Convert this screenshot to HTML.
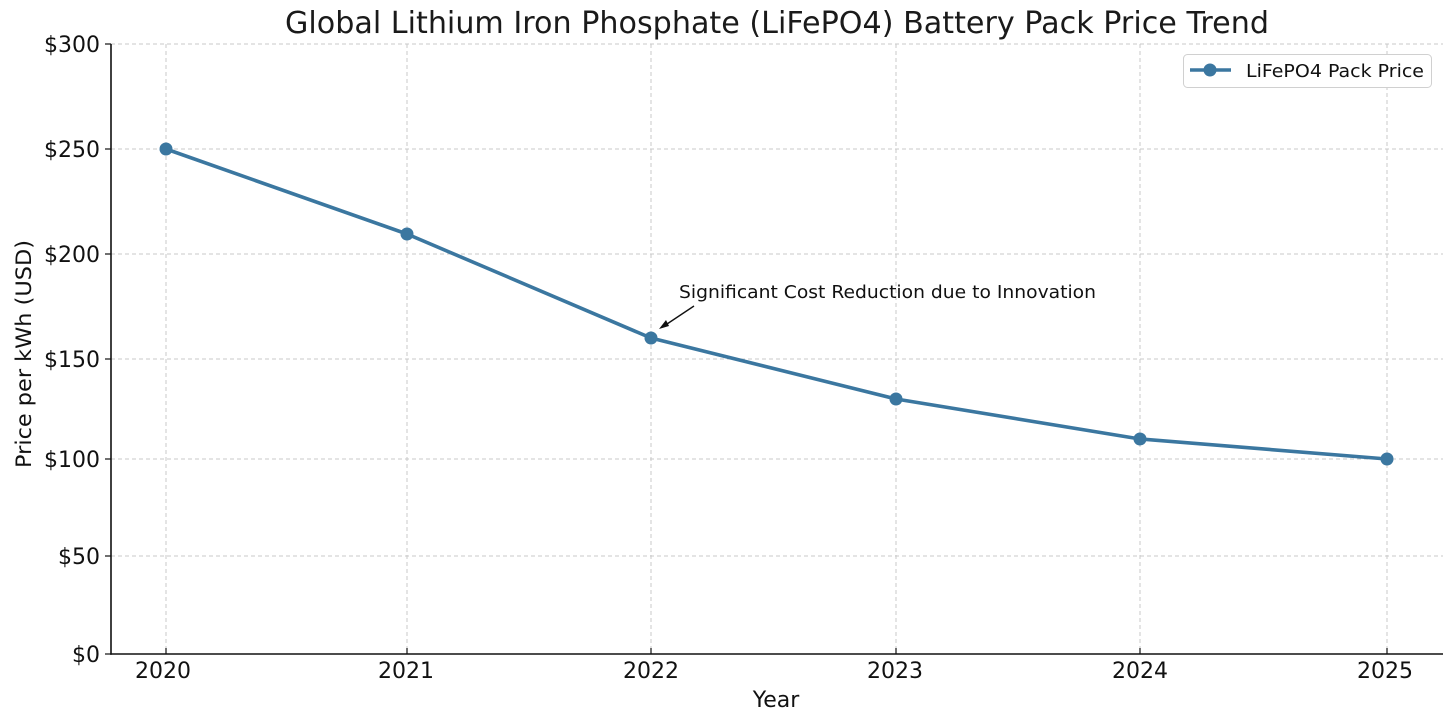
<!DOCTYPE html>
<html><head><meta charset="utf-8"><style>
html,body{margin:0;padding:0;background:#fff;}
svg{display:block;font-family:"DejaVu Sans","Liberation Sans",sans-serif;}
</style></head><body>
<svg width="1456" height="720" viewBox="0 0 1456 720" xmlns="http://www.w3.org/2000/svg">
<rect width="1456" height="720" fill="#fff"/>
<!-- grid -->
<g stroke="#c8c8c8" stroke-width="1" stroke-dasharray="4,3" fill="none">
<line x1="111" y1="44" x2="1443" y2="44"/>
<line x1="111" y1="149" x2="1443" y2="149"/>
<line x1="111" y1="254" x2="1443" y2="254"/>
<line x1="111" y1="359" x2="1443" y2="359"/>
<line x1="111" y1="459" x2="1443" y2="459"/>
<line x1="111" y1="556" x2="1443" y2="556"/>
<line x1="166" y1="44" x2="166" y2="654"/>
<line x1="407" y1="44" x2="407" y2="654"/>
<line x1="651" y1="44" x2="651" y2="654"/>
<line x1="896" y1="44" x2="896" y2="654"/>
<line x1="1140" y1="44" x2="1140" y2="654"/>
<line x1="1387" y1="44" x2="1387" y2="654"/>
</g>
<!-- spines -->
<g stroke="#111" stroke-width="1.6" fill="none">
<line x1="111" y1="44" x2="111" y2="654.8"/>
<line x1="110.2" y1="654" x2="1443" y2="654"/>
</g>
<!-- ticks -->
<g stroke="#111" stroke-width="1.2">
<line x1="105" y1="44" x2="111" y2="44"/>
<line x1="105" y1="149" x2="111" y2="149"/>
<line x1="105" y1="254" x2="111" y2="254"/>
<line x1="105" y1="359" x2="111" y2="359"/>
<line x1="105" y1="459" x2="111" y2="459"/>
<line x1="105" y1="556" x2="111" y2="556"/>
<line x1="105" y1="654" x2="111" y2="654"/>
<line x1="166" y1="648" x2="166" y2="654"/>
<line x1="407" y1="648" x2="407" y2="654"/>
<line x1="651" y1="648" x2="651" y2="654"/>
<line x1="896" y1="648" x2="896" y2="654"/>
<line x1="1140" y1="648" x2="1140" y2="654"/>
<line x1="1387" y1="648" x2="1387" y2="654"/>
</g>
<!-- y tick labels -->
<g font-size="22" fill="#111" text-anchor="end">
<text x="100" y="52">$300</text>
<text x="100" y="157">$250</text>
<text x="100" y="262">$200</text>
<text x="100" y="367">$150</text>
<text x="100" y="467">$100</text>
<text x="100" y="564">$50</text>
<text x="100" y="662">$0</text>
</g>
<!-- x tick labels -->
<g font-size="22" fill="#111" text-anchor="middle">
<text x="163" y="678">2020</text>
<text x="406" y="678">2021</text>
<text x="651" y="678">2022</text>
<text x="895" y="678">2023</text>
<text x="1140" y="678">2024</text>
<text x="1385" y="678">2025</text>
</g>
<!-- axis labels -->
<text x="776" y="707" font-size="22" fill="#111" text-anchor="middle">Year</text>
<text transform="translate(31,354) rotate(-90)" font-size="21" fill="#111" text-anchor="middle" textLength="228" lengthAdjust="spacingAndGlyphs">Price per kWh (USD)</text>
<!-- title -->
<text x="777" y="33" font-size="30" fill="#1a1a1a" text-anchor="middle" textLength="984" lengthAdjust="spacingAndGlyphs">Global Lithium Iron Phosphate (LiFePO4) Battery Pack Price Trend</text>
<!-- series -->
<polyline points="166,149 407,234 651,338 896,399 1140,439 1387,459" fill="none" stroke="#3b77a0" stroke-width="3.6" stroke-linejoin="round" stroke-linecap="round"/>
<g fill="#3b77a0">
<circle cx="166" cy="149" r="6.5"/>
<circle cx="407" cy="234" r="6.5"/>
<circle cx="651" cy="338" r="6.5"/>
<circle cx="896" cy="399" r="6.5"/>
<circle cx="1140" cy="439" r="6.5"/>
<circle cx="1387" cy="459" r="6.5"/>
</g>
<!-- annotation -->
<text x="679" y="298" font-size="18" fill="#111" textLength="417" lengthAdjust="spacingAndGlyphs">Significant Cost Reduction due to Innovation</text>
<line x1="694" y1="306" x2="664" y2="326" stroke="#111" stroke-width="1.4"/>
<polygon points="659,329 666,320 669,326" fill="#111"/>
<!-- legend -->
<rect x="1183.5" y="54.5" width="248" height="33" rx="4" ry="4" fill="#fff" stroke="#d0d0d0" stroke-width="1"/>
<line x1="1190" y1="70" x2="1231" y2="70" stroke="#3b77a0" stroke-width="3.6"/>
<circle cx="1210" cy="70" r="6.5" fill="#3b77a0"/>
<text x="1246" y="77" font-size="18" fill="#111" textLength="178" lengthAdjust="spacingAndGlyphs">LiFePO4 Pack Price</text>
</svg>
</body></html>
